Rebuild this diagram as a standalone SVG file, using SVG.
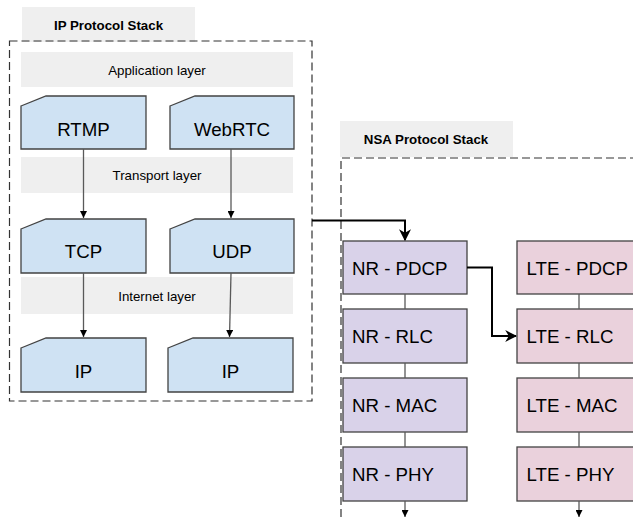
<svg xmlns="http://www.w3.org/2000/svg" width="633" height="517" viewBox="0 0 633 517">
<defs>
<style>
.band{fill:#efefef;stroke:none}
.hdr{fill:#efefef;stroke:none}
.hdrt{font-family:"Liberation Sans",Arial,sans-serif;font-size:13.3px;font-weight:bold;fill:#000;text-anchor:middle}
.bandt{font-family:"Liberation Sans",Arial,sans-serif;font-size:13.3px;fill:#000;text-anchor:middle}
.card{fill:#cfe2f3;stroke:#434343;stroke-width:1.3}
.nr{fill:#d9d2e9;stroke:#434343;stroke-width:1.3}
.lte{fill:#ead1dc;stroke:#434343;stroke-width:1.3}
.big{font-family:"Liberation Sans",Arial,sans-serif;font-size:18.7px;fill:#000}
.mid{text-anchor:middle}
.dash{fill:none;stroke:#333;stroke-width:1.2;stroke-dasharray:8,4}
.thin{fill:none;stroke:#595959;stroke-width:1.3}
.thick{fill:none;stroke:#000;stroke-width:2}
</style>
<marker id="ah" viewBox="0 0 10 10" refX="10" refY="5" markerWidth="7" markerHeight="7" markerUnits="userSpaceOnUse" orient="auto">
<path d="M0,0 L10,5 L0,10 z" fill="#000"/>
</marker>
<marker id="ahb" viewBox="0 0 10 10" refX="9" refY="5" markerWidth="12" markerHeight="12" markerUnits="userSpaceOnUse" orient="auto">
<path d="M0,0 L10,5 L0,10 L3,5 z" fill="#000"/>
</marker>
</defs>

<g id="ip-stack">
<rect class="hdr" x="22" y="7" width="173" height="35"/>
<text class="hdrt" x="108.5" y="29.5">IP Protocol Stack</text>
<rect class="dash" x="9.5" y="41" width="302.5" height="360"/>
</g>

<g id="application-layer">
<rect class="band" x="21" y="52" width="272" height="35"/>
<text class="bandt" x="157" y="75">Application layer</text>
</g>
<g id="transport-layer">
<rect class="band" x="21" y="157" width="272" height="36"/>
<text class="bandt" x="157" y="180">Transport layer</text>
</g>
<g id="internet-layer">
<rect class="band" x="21" y="277" width="272" height="37"/>
<text class="bandt" x="157" y="301">Internet layer</text>
</g>

<g id="rtmp">
<path class="card" d="M21,106 L46,96 L146,96 L146,149 L21,149 Z"/>
<text class="big mid" x="83.5" y="136">RTMP</text>
</g>
<g id="webrtc">
<path class="card" d="M170,106 L195,96 L294,96 L294,149 L170,149 Z"/>
<text class="big mid" x="232" y="136">WebRTC</text>
</g>
<g id="tcp">
<path class="card" d="M21,229 L46,219 L146,219 L146,273 L21,273 Z"/>
<text class="big mid" x="83.5" y="258">TCP</text>
</g>
<g id="udp">
<path class="card" d="M170,229 L195,219 L294,219 L294,273 L170,273 Z"/>
<text class="big mid" x="232" y="258">UDP</text>
</g>
<g id="ip-left">
<path class="card" d="M21,348 L46,338 L146,338 L146,392 L21,392 Z"/>
<text class="big mid" x="83.5" y="378">IP</text>
</g>
<g id="ip-right">
<path class="card" d="M168,348 L193,338 L293,338 L293,392 L168,392 Z"/>
<text class="big mid" x="230.5" y="378">IP</text>
</g>

<g id="nsa-stack">
<rect class="hdr" x="340" y="121" width="173" height="36"/>
<text class="hdrt" x="426" y="143.5">NSA Protocol Stack</text>
<path class="dash" d="M341,517 L341,158 L633,158"/>
</g>

<g id="nr-pdcp">
<rect class="nr" x="343" y="241" width="124" height="53"/>
<text class="big" x="352" y="274.5">NR - PDCP</text>
</g>
<g id="nr-rlc">
<rect class="nr" x="343" y="309" width="124" height="54"/>
<text class="big" x="352" y="342.5">NR - RLC</text>
</g>
<g id="nr-mac">
<rect class="nr" x="343" y="378" width="124" height="54"/>
<text class="big" x="352" y="411.5">NR - MAC</text>
</g>
<g id="nr-phy">
<rect class="nr" x="343" y="447" width="124" height="54"/>
<text class="big" x="352" y="480.5">NR - PHY</text>
</g>
<g id="lte-pdcp">
<rect class="lte" x="517" y="241" width="124" height="53"/>
<text class="big" x="526.5" y="274.5">LTE - PDCP</text>
</g>
<g id="lte-rlc">
<rect class="lte" x="517" y="309" width="124" height="54"/>
<text class="big" x="526.5" y="342.5">LTE - RLC</text>
</g>
<g id="lte-mac">
<rect class="lte" x="517" y="378" width="124" height="54"/>
<text class="big" x="526.5" y="411.5">LTE - MAC</text>
</g>
<g id="lte-phy">
<rect class="lte" x="517" y="447" width="124" height="54"/>
<text class="big" x="526.5" y="480.5">LTE - PHY</text>
</g>

<g id="connectors">
<line class="thin" x1="83.5" y1="149" x2="83.5" y2="218" marker-end="url(#ah)"/>
<line class="thin" x1="231" y1="149" x2="231" y2="218" marker-end="url(#ah)"/>
<line class="thin" x1="83.5" y1="273" x2="83.5" y2="337" marker-end="url(#ah)"/>
<line class="thin" x1="231" y1="273" x2="229.5" y2="337" marker-end="url(#ah)"/>
<path class="thick" d="M312,220.5 L405,220.5 L405,240" marker-end="url(#ahb)"/>
<path class="thick" d="M467,267.5 L492,267.5 L492,336 L516,336" marker-end="url(#ahb)"/>
<line class="thin" x1="405" y1="294" x2="405" y2="309"/>
<line class="thin" x1="405" y1="363" x2="405" y2="378"/>
<line class="thin" x1="405" y1="432" x2="405" y2="447"/>
<line class="thin" x1="405" y1="501" x2="405" y2="517" marker-end="url(#ah)"/>
<line class="thin" x1="579" y1="294" x2="579" y2="309"/>
<line class="thin" x1="579" y1="363" x2="579" y2="378"/>
<line class="thin" x1="579" y1="432" x2="579" y2="447"/>
<line class="thin" x1="579" y1="501" x2="579" y2="517" marker-end="url(#ah)"/>
</g>
</svg>
